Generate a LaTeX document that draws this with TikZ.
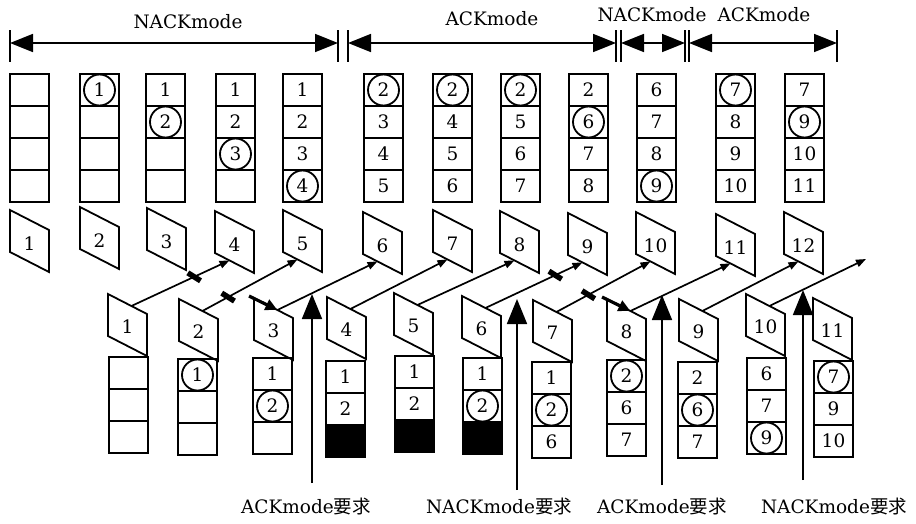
\documentclass[tikz,border=0pt]{standalone}
\usepackage{fontspec}
\setmainfont{DejaVu Serif}
\newfontfamily\cjk{Noto Sans CJK SC}
\usetikzlibrary{arrows.meta}
\newcommand\tcol[6]{%
  \node[cell] (t#1a) at (#2+19.5,90) {#3};
  \node[cell] (t#1b) at (#2+19.5,122) {#4};
  \node[cell] (t#1c) at (#2+19.5,154) {#5};
  \node[cell] (t#1d) at (#2+19.5,186) {#6};
}
\newcommand\bcol[7]{%
  \node[cell] (b#1a) at (#2+19.5,#3+16) {#4};
  \node[cell] (b#1b) at (#2+19.5,#3+48) {#5};
  \node[#7] (b#1c) at (#2+19.5,#3+80) {#6};
}
\newcommand\tpar[3]{%
  \draw[par] (#2,#3) -- ++(39,20) -- ++(0,42) -- ++(-39,-20) -- cycle;
  \node[plab] (tp#1) at (#2+19.5,#3+34) {#1};
  \coordinate (te#1) at (#2+14.5,#3+49.4);
}
\newcommand\bpar[3]{%
  \draw[par] (#2,#3) -- ++(39,20) -- ++(0,42) -- ++(-39,-20) -- cycle;
  \node[plab] (bp#1) at (#2+19.5,#3+33) {#1};
  \coordinate (bs#1) at (#2+23.4,#3+12);
  \coordinate (bi#1) at (#2-5,#3-2);
}
\begin{document}
\begin{tikzpicture}[x=1pt,y=-1pt,
  every node/.style={font=\fontsize{18.5}{22}\selectfont},
  cell/.style={draw, line width=1.8pt, minimum width=39pt, minimum height=32pt, inner sep=0pt},
  blk/.style={cell, fill=black},
  circ/.style={draw, circle, line width=1.8pt, minimum size=31pt, inner sep=0pt},
  par/.style={draw, line width=1.8pt, line join=miter},
  plab/.style={inner sep=0pt},
  diag/.style={line width=1.7pt, -{Triangle[length=10pt,width=7.5pt]}},
  retx/.style={line width=3.2pt, -{Triangle[length=12pt,width=11pt]}},
  lossmark/.style={fill=black, minimum width=15pt, minimum height=5.5pt, inner sep=0pt, rotate=-32},
  req/.style={line width=1.7pt, -{Triangle[length=25pt,width=20pt]}},
  bar/.style={line width=1.7pt, {Triangle[length=23pt,width=18pt]}-{Triangle[length=23pt,width=18pt]}},
  tick/.style={line width=1.8pt},
  modelab/.style={inner sep=0pt},
]
\useasboundingbox (0,0) rectangle (916,523);

% mode bar
\foreach \x [count=\i] in {10,338,348,616,621,685,689,837} {
  \coordinate (k\i) at (\x,43);
  \draw[tick] (k\i) ++(0,-13) -- ++(0,32);
}
\draw[bar] (k1) -- (k2);
\draw[bar] (k3) -- (k4);
\draw[bar] (k5) -- (k6);
\draw[bar] (k7) -- (k8);
\node[modelab] (L1) at (188,22) {NACKmode};
\node[modelab] (L2) at (492,19) {ACKmode};
\node[modelab] (L3) at (652,15) {NACKmode};
\node[modelab] (L4) at (764,15) {ACKmode};

% top buffers
\tcol{1}{10}{}{}{}{}
\tcol{2}{80}{1}{}{}{}
\tcol{3}{146}{1}{2}{}{}
\tcol{4}{216}{1}{2}{3}{}
\tcol{5}{283}{1}{2}{3}{4}
\tcol{6}{364}{2}{3}{4}{5}
\tcol{7}{433}{2}{4}{5}{6}
\tcol{8}{501}{2}{5}{6}{7}
\tcol{9}{569}{2}{6}{7}{8}
\tcol{10}{637}{6}{7}{8}{9}
\tcol{11}{716}{7}{8}{9}{10}
\tcol{12}{785}{7}{9}{10}{11}
\foreach \c in {t2a,t3b,t4c,t5d,t6a,t7a,t8a,t9b,t10d,t11a,t12b}
  \node[circ] (o\c) at (\c) {};

% top frames
\tpar{1}{10}{210}
\tpar{2}{80}{207}
\tpar{3}{147}{208}
\tpar{4}{215}{211}
\tpar{5}{283}{210}
\tpar{6}{363}{212}
\tpar{7}{433}{210}
\tpar{8}{500}{211}
\tpar{9}{568}{213}
\tpar{10}{636}{212}
\tpar{11}{716}{214}
\tpar{12}{784}{212}

% bottom frames
\bpar{1}{108}{294}
\bpar{2}{179}{299}
\bpar{3}{254}{298}
\bpar{4}{327}{297}
\bpar{5}{394}{293}
\bpar{6}{462}{296}
\bpar{7}{533}{300}
\bpar{8}{607}{299}
\bpar{9}{679}{299}
\bpar{10}{746}{294}
\bpar{11}{813}{298}

% bottom buffers
\bcol{1}{109}{357}{}{}{}{cell}
\bcol{2}{178}{359}{1}{}{}{cell}
\bcol{3}{253}{358}{1}{2}{}{cell}
\bcol{4}{326}{361}{1}{2}{}{blk}
\bcol{5}{395}{356}{1}{2}{}{blk}
\bcol{6}{463}{358}{1}{2}{}{blk}
\bcol{7}{532}{362}{1}{2}{6}{cell}
\bcol{8}{607}{360}{2}{6}{7}{cell}
\bcol{9}{678}{362}{2}{6}{7}{cell}
\bcol{10}{747}{358}{6}{7}{9}{cell}
\bcol{11}{814}{361}{7}{9}{10}{cell}
\foreach \c in {b2a,b3b,b6b,b7b,b8a,b9b,b10c,b11a}
  \node[circ] (o\c) at (\c) {};

% transmissions
\draw[diag] (bs1) -- (te4) node[lossmark,pos=0.64] (m1) {};
\draw[diag] (bs2) -- (te5) node[lossmark,pos=0.27] (m2) {};
\draw[retx] (bi3) -- (bs3);
\draw[diag] (bs3) -- (te6);
\draw[diag] (bs4) -- (te7);
\draw[diag] (bs5) -- (te8);
\draw[diag] (bs6) -- (te9) node[lossmark,pos=0.72] (m3) {};
\draw[diag] (bs7) -- (te10) node[lossmark,pos=0.34] (m4) {};
\draw[retx] (bi8) -- (bs8);
\draw[diag] (bs8) -- (te11);
\draw[diag] (bs9) -- (te12);
\coordinate (free) at (866,259);
\draw[diag] (bs10) -- (free);

% mode requests
\coordinate (q1b) at (312,483); \coordinate (q1t) at (312,294);
\coordinate (q2b) at (517,490); \coordinate (q2t) at (517,299);
\coordinate (q3b) at (662,485); \coordinate (q3t) at (662,295);
\coordinate (q4b) at (803,480); \coordinate (q4t) at (803,290);
\draw[req] (q1b) -- (q1t);
\draw[req] (q2b) -- (q2t);
\draw[req] (q3b) -- (q3t);
\draw[req] (q4b) -- (q4t);
\node[modelab] (R1) at (306,506) {ACKmode{\cjk 要求}};
\node[modelab] (R2) at (499,506) {NACKmode{\cjk 要求}};
\node[modelab] (R3) at (662,506) {ACKmode{\cjk 要求}};
\node[modelab] (R4) at (834,506) {NACKmode{\cjk 要求}};
\end{tikzpicture}
\end{document}
